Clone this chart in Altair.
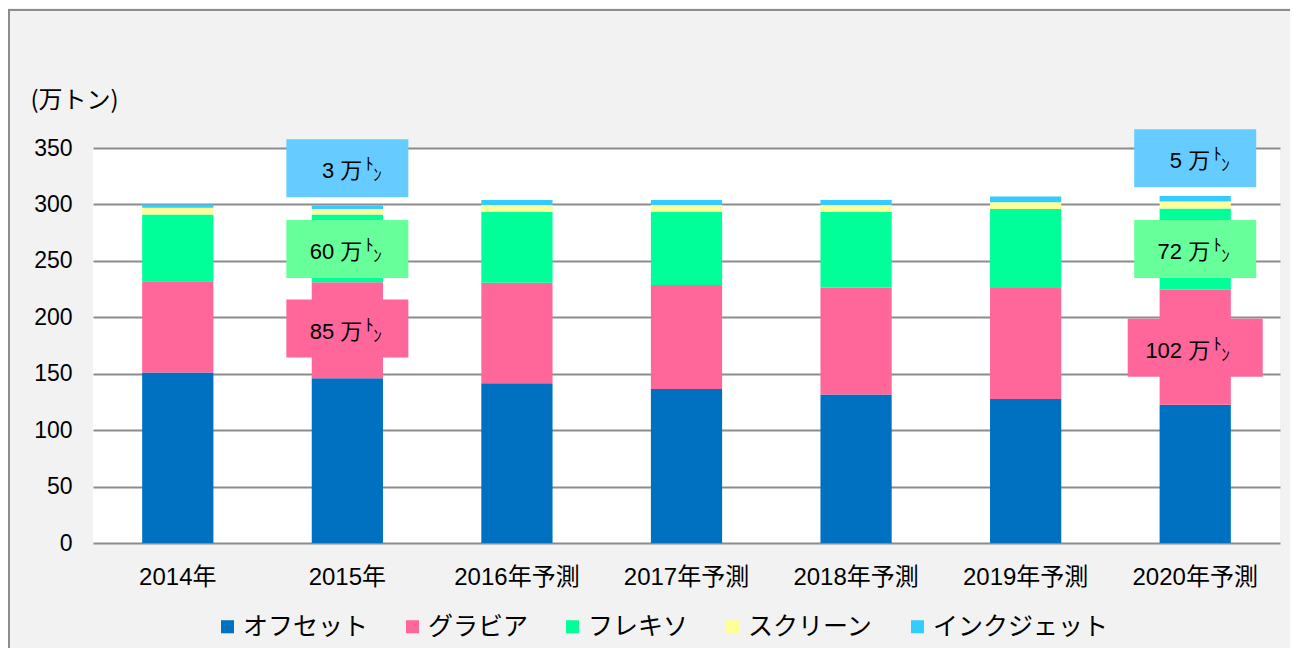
import altair as alt
import pandas as pd

years = ["2014年", "2015年", "2016年予測", "2017年予測", "2018年予測", "2019年予測", "2020年予測"]
series = ["オフセット", "グラビア", "フレキソ", "スクリーン", "インクジェット"]
colors = ["#0070C0", "#FF6699", "#00FF99", "#FFFF99", "#33CCFF"]
offset = [151, 146, 141.5, 136.5, 131.5, 127.5, 122.5]
gravure = [81, 85, 89, 92, 95, 98.5, 102]
flexo = [59, 60, 63, 65, 67, 70, 72]
screen = [6, 5, 6, 6, 6, 6, 6]
inkjet = [3, 3, 4.5, 4.5, 4.5, 5, 5]
y_ticks = [0, 50, 100, 150, 200, 250, 300, 350]

# callout boxes
ann_year = ["2015年", "2015年", "2015年", "2020年予測", "2020年予測", "2020年予測"]
ann_center = [332, 260.5, 190, 341, 260.5, 173]
ann_label = ["3 万", "60 万", "85 万", "5 万", "72 万", "102 万"]
ann_fill = ["#66CCFF", "#66FF99", "#FF6699", "#66CCFF", "#66FF99", "#FF6699"]
ann_box_w = [122, 122, 122, 122, 122, 135]
BOX_H = 58

FONT = "Liberation Sans, Noto Sans CJK JP"
JP = "Noto Sans CJK JP, Liberation Sans"

rows = []
for i, y in enumerate(years):
    for k, (s, vals) in enumerate(zip(series, [offset, gravure, flexo, screen, inkjet])):
        rows.append({"year": y, "series": s, "value": vals[i], "idx": k})
df = pd.DataFrame(rows)


def box_path(w):
    r = BOX_H / w
    return f"M-1,-{r:.4f}L1,-{r:.4f}L1,{r:.4f}L-1,{r:.4f}Z"


ann = pd.DataFrame({
    "year": ann_year,
    "center": ann_center,
    "label": ann_label,
    "fill": ann_fill,
    "size": [w * w for w in ann_box_w],
    "path": [box_path(w) for w in ann_box_w],
})

W, H = 1187, 395
xscale = alt.Scale(domain=years, paddingInner=0.58, paddingOuter=0.29)
yscale = alt.Scale(domain=[0, 350], nice=False)

bars = alt.Chart(df).mark_bar().encode(
    x=alt.X("year:N", scale=xscale, sort=years,
            axis=alt.Axis(title=None, labelAngle=0, ticks=False, domain=False,
                          labelFontSize=24, labelFont=FONT, labelColor="#000000",
                          labelPadding=22)),
    y=alt.Y("value:Q", stack="zero", scale=yscale,
            axis=alt.Axis(values=y_ticks, title="(万トン)", titleAngle=0, titleAlign="left",
                          titleX=-63, titleY=-48, titleBaseline="middle", titleFontSize=24,
                          titleFont=JP, titleFontWeight="normal", titleColor="#000000",
                          ticks=False, domain=False, labelFontSize=23, labelFont=FONT,
                          labelColor="#000000", labelPadding=21,
                          gridColor="#8C8C8C", gridWidth=2)),
    color=alt.Color("series:N", scale=alt.Scale(domain=series, range=colors),
                    legend=alt.Legend(title=None, orient="none", direction="horizontal",
                                      legendX=122, legendY=466, symbolType="square",
                                      symbolSize=170, symbolStrokeWidth=0,
                                      labelFontSize=25, labelFont=JP, labelColor="#000000",
                                      columnPadding=31, labelOffset=3, labelLimit=300)),
    order=alt.Order("idx:Q"),
)

xa = alt.X("year:N", scale=xscale, sort=years)
ya = alt.Y("center:Q", scale=yscale)

boxes = alt.Chart(ann).mark_point(filled=True, opacity=1, strokeWidth=0).encode(
    x=xa, y=ya,
    shape=alt.Shape("path:N", scale=None),
    size=alt.Size("size:Q", scale=None),
    fill=alt.Fill("fill:N", scale=None),
)

main_txt = alt.Chart(ann).mark_text(align="right", baseline="middle", dx=15, dy=3,
                                    fontSize=22, font=FONT, color="#000000").encode(
    x=xa, y=ya, text="label:N")
to_txt = alt.Chart(ann).mark_text(align="left", baseline="middle", dx=18, dy=-3,
                                  fontSize=17, font=JP, color="#000000").encode(
    x=xa, y=ya, text=alt.value("ﾄ"))
n_txt = alt.Chart(ann).mark_text(align="left", baseline="middle", dx=26, dy=8,
                                 fontSize=17, font=JP, color="#000000").encode(
    x=xa, y=ya, text=alt.value("ﾝ"))

one = alt.Data(values=[{"a": 1}])
frame_top = alt.Chart(one).mark_rule(stroke="#8C8C8C", strokeWidth=2, clip=False).encode(
    x=alt.value(-85), x2=alt.value(W + 40), y=alt.value(-138))
frame_left = alt.Chart(one).mark_rule(stroke="#8C8C8C", strokeWidth=2, clip=False).encode(
    x=alt.value(-84), y=alt.value(-139), y2=alt.value(H + 300))

chart = alt.layer(frame_top, frame_left, bars, boxes, main_txt, to_txt, n_txt).properties(
    width=W, height=H,
    background="#F2F2F2",
    autosize=alt.AutoSizeParams(type="none"),
    padding={"left": 85, "top": 140, "right": 10, "bottom": 105},
).configure_view(fill="#FFFFFF", stroke=None)

chart.save("out.html", embed_options={"renderer": "svg", "actions": False})
